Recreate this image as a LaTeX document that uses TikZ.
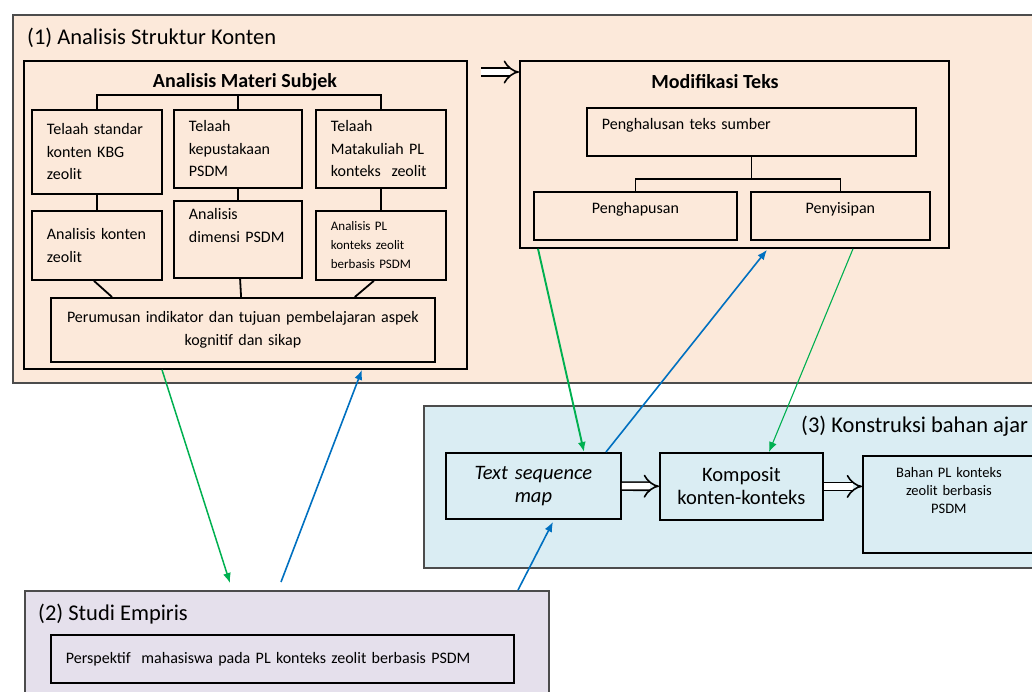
\documentclass[tikz,border=0pt]{standalone}
\usepackage{fontspec}
\setmainfont{Carlito}
\usetikzlibrary{positioning, arrows.meta, calc}
\definecolor{peach}{RGB}{252,233,218}
\definecolor{sky}{RGB}{218,237,243}
\definecolor{lilac}{RGB}{229,224,236}
\definecolor{grn}{RGB}{0,176,80}
\definecolor{blu}{RGB}{0,112,192}

\begin{document}
\begin{tikzpicture}[x=1pt, y=-1pt,
    section/.style={draw=black!70, line width=1.8pt, anchor=north west, inner sep=0pt},
    box/.style={draw=black, line width=1.8pt, anchor=north west, align=left, inner xsep=15pt, inner ysep=0pt,
        font=\fontsize{16}{22.5}\selectfont},
    cbox/.style={box, align=center, inner xsep=4pt},
    sectitle/.style={anchor=west, inner sep=0pt, font=\fontsize{22.5}{26}\selectfont},
    boxtitle/.style={inner sep=0pt, font=\fontsize{20}{24}\bfseries\selectfont},
    link/.style={line width=1.8pt},
    hollow/.style={double=white, double distance=6.5pt, line width=1.6pt, -{Implies}},
    flowg/.style={grn, line width=1.5pt, -{Latex[length=10pt,width=8pt]}},
    flowb/.style={blu, line width=1.6pt, -{Latex[length=10pt,width=8pt]}}]
    \useasboundingbox (0,0) rectangle (1032,691);
    \clip (0,0) rectangle (1032,691);
    % three sections
    \node[section, fill=peach, minimum width=1040pt, minimum height=368pt] (sec1) at (12,14) {};
    \node[section, fill=sky, minimum width=620pt, minimum height=162pt] (sec3) at (423,405) {};
    \node[section, fill=lilac, minimum width=524pt, minimum height=120pt] (sec2) at (24,590) {};
    \node[sectitle] (t1) at (27,38) {(1) Analisis Struktur Konten};
    \node[sectitle] (t3) at (801,426) {(3) Konstruksi bahan ajar};
    \node[sectitle] (t2) at (38,614) {(2) Studi Empiris};

    % analisis materi subjek
    \node[box, minimum width=443pt, minimum height=308pt] (materi) at (23,60) {};
    \node[boxtitle] (mtitle) at (245,82) {Analisis Materi Subjek};
    \node[box, text width=100pt, minimum height=84pt] (telA) at (31,109) {Telaah standar\\konten KBG\\zeolit};
    \node[box, text width=98pt, minimum height=78pt] (telB) at (173,109) {Telaah\\kepustakaan\\PSDM};
    \node[box, text width=100pt, minimum height=78pt] (telC) at (315,109) {Telaah\\Matakuliah PL\\konteks~ zeolit};
    \node[box, text width=100pt, minimum height=69pt] (anaA) at (31,210) {Analisis konten\\zeolit};
    \node[box, text width=98pt, minimum height=77pt, text depth=50pt] (anaB) at (173,200) {Analisis\\dimensi PSDM};
    \node[box, text width=100pt, minimum height=69pt, font=\fontsize{13}{19}\selectfont] (anaC) at (315,210) {Analisis PL\\konteks zeolit\\berbasis PSDM};
    \node[cbox, text width=376pt, minimum height=64pt] (rumus) at (50,297) {Perumusan indikator dan tujuan pembelajaran aspek\\kognitif dan sikap};
    \draw[link] (telA.north) -- ++(0,-14) -| (telC.north);
    \draw[link] (telB.north) -- ++(0,-14);
    \draw[link] (telA) -- (anaA);
    \draw[link] (telB) -- (anaB);
    \draw[link] (telC) -- (anaC);
    \draw[link] ([xshift=-3pt]anaA.south) -- ($(rumus.north west)+(62,0)$);
    \draw[link] (anaB) -- (rumus);
    \draw[link] ([xshift=-7pt]anaC.south) -- ($(rumus.north east)+(-81,0)$);

    % modifikasi teks
    \node[box, minimum width=429pt, minimum height=187pt] (modif) at (519,60) {};
    \node[boxtitle] (ttitle) at (715,82) {Modifikasi Teks};
    \node[box, text width=299pt, minimum height=48pt, text depth=15pt] (halus) at (586,107) {Penghalusan teks sumber};
    \node[cbox, text width=195pt, minimum height=48pt, text depth=15pt] (hapus) at (533,191) {Penghapusan};
    \node[cbox, text width=171pt, minimum height=48pt, text depth=15pt] (sisip) at (750,191) {Penyisipan};
    \draw[link] (halus.south) -- ++(0,22) coordinate (fork);
    \draw[link] (hapus.north) |- (fork) -| (sisip.north);
    \coordinate (hstart) at (481,72);
    \draw[hollow] (hstart) -- (hstart -| modif.west);

    % konstruksi bahan ajar
    \node[cbox, text width=167pt, minimum height=66pt, font=\fontsize{20.5}{23}\itshape\selectfont] (tsm) at (445,452) {Text sequence\\map};
    \node[cbox, text width=155pt, minimum height=67pt, font=\fontsize{20.5}{23}\selectfont] (komp) at (659,452) {Komposit\\konten-konteks};
    \node[cbox, text width=164pt, minimum height=97pt, text depth=64pt, font=\fontsize{14.5}{18}\selectfont] (bahan) at (862,455) {Bahan PL konteks\\zeolit berbasis\\PSDM};
    \draw[hollow] (tsm) -- (komp);
    \draw[hollow] (komp.east) -- (komp.east -| bahan.west);

    % studi empiris
    \node[box, text width=433pt, minimum height=48pt] (persp) at (50,634) {Perspektif~ mahasiswa pada PL konteks zeolit berbasis PSDM};

    % flows between the sections
    \draw[flowg] ($(materi.south west)+(139,0)$) -- ($(sec2.north west)+(206,-7)$);
    \draw[flowb] ($(sec2.north west)+(257,-8)$) -- ($(materi.south west)+(339,0)$);
    \draw[flowg, line width=1.9pt] ($(modif.south west)+(19,0)$) -- ($(tsm.north west)+(139,0)$);
    \draw[flowb] ($(tsm.north west)+(161,0)$) -- ($(modif.south west)+(248,1)$);
    \draw[flowg, line width=1.1pt] ($(modif.south west)+(334,0)$) -- ($(komp.north west)+(110,0)$);
    \draw[flowb] ($(sec2.north west)+(494,0)$) -- ($(tsm.south west)+(108,2)$);
\end{tikzpicture}
\end{document}
